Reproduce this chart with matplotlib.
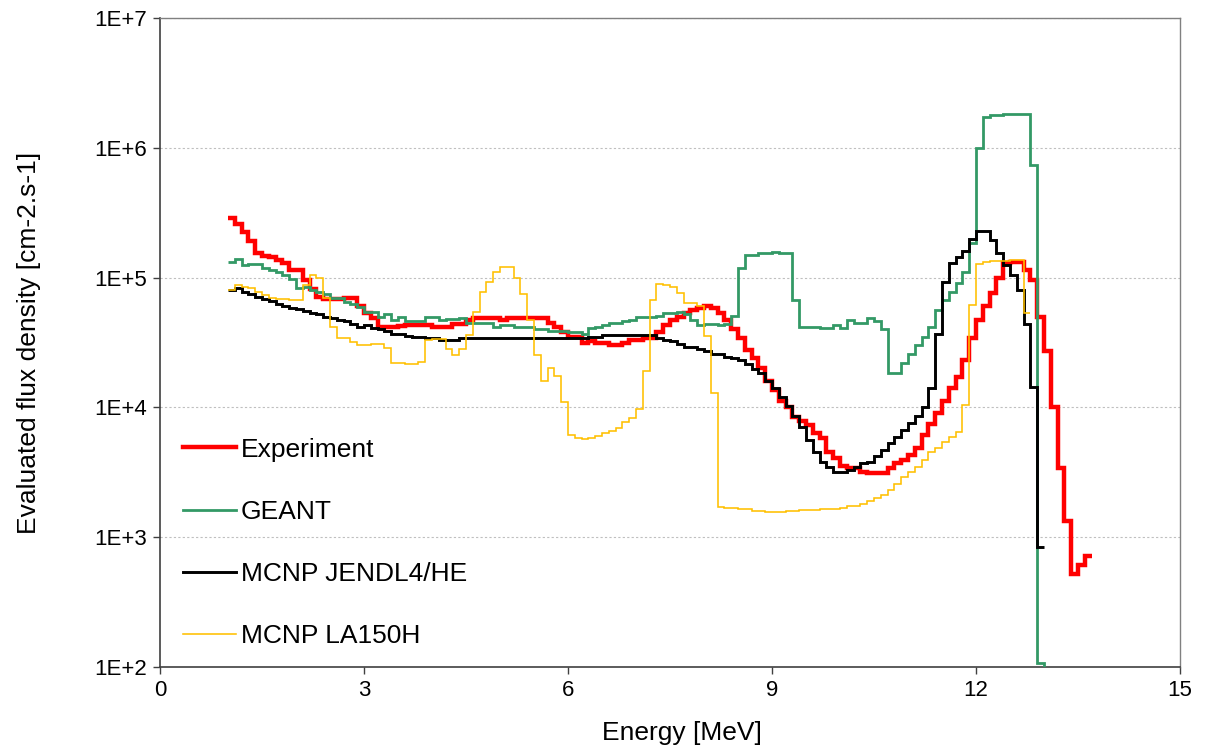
import numpy as np
import matplotlib
matplotlib.use("Agg")
import matplotlib.pyplot as plt
from matplotlib.ticker import FixedLocator, FuncFormatter, NullLocator
from matplotlib.lines import Line2D

plt.rcParams['font.family'] = ['Liberation Sans', 'DejaVu Sans']

# Spectra binned in 0.1 MeV steps starting at 1.0 MeV
E_START = 1.0
BIN_WIDTH = 0.1

series_labels = ["Experiment", "GEANT", "MCNP JENDL4/HE", "MCNP LA150H"]

experiment = [
    2.9e5, 2.6e5, 2.25e5, 1.9e5, 1.55e5, 1.47e5, 1.45e5, 1.37e5, 1.3e5, 1.15e5,
    1.15e5, 9.6e4, 8.1e4, 7.1e4, 6.8e4, 6.9e4, 6.9e4, 7.0e4, 7.0e4, 6.0e4,
    5.3e4, 4.9e4, 4.2e4, 4.2e4, 4.2e4, 4.25e4, 4.3e4, 4.3e4, 4.3e4, 4.35e4,
    4.2e4, 4.2e4, 4.2e4, 4.4e4, 4.4e4, 4.7e4, 4.9e4, 4.9e4, 4.9e4, 4.9e4,
    4.7e4, 4.9e4, 4.9e4, 4.9e4, 4.9e4, 4.9e4, 4.9e4, 4.5e4, 4.2e4, 3.8e4,
    3.5e4, 3.5e4, 3.15e4, 3.25e4, 3.15e4, 3.15e4, 3.05e4, 3.05e4, 3.15e4, 3.3e4,
    3.3e4, 3.4e4, 3.4e4, 3.8e4, 4.3e4, 4.7e4, 5.0e4, 5.3e4, 5.6e4, 5.8e4,
    6.0e4, 5.8e4, 5.3e4, 4.7e4, 4.0e4, 3.4e4, 2.75e4, 2.4e4, 2.0e4, 1.6e4,
    1.37e4, 1.13e4, 1.0e4, 8.5e3, 7.8e3, 7.3e3, 6.3e3, 5.8e3, 4.5e3, 4.05e3,
    3.55e3, 3.4e3, 3.4e3, 3.2e3, 3.1e3, 3.1e3, 3.15e3, 3.4e3, 3.7e3, 3.9e3,
    4.3e3, 4.9e3, 6.1e3, 7.4e3, 9.0e3, 1.13e4, 1.4e4, 1.7e4, 2.3e4, 3.4e4,
    4.7e4, 6.0e4, 7.6e4, 1.0e5, 1.3e5, 1.33e5, 1.33e5, 1.15e5, 9.6e4, 5.0e4,
    2.7e4, 1.0e4, 3.4e3, 1.33e3, 5.2e2, 6.1e2, 7.2e2,
]

geant = [
    1.32e5, 1.38e5, 1.24e5, 1.28e5, 1.28e5, 1.18e5, 1.15e5, 1.1e5, 1.05e5, 9.7e4,
    8.3e4, 8.4e4, 8.0e4, 7.7e4, 7.5e4, 7.0e4, 7.0e4, 6.5e4, 6.3e4, 5.9e4,
    5.4e4, 5.4e4, 5.0e4, 5.2e4, 4.7e4, 5.0e4, 4.6e4, 4.6e4, 4.6e4, 5.0e4,
    5.0e4, 4.7e4, 4.8e4, 4.8e4, 4.9e4, 4.5e4, 4.5e4, 4.5e4, 4.5e4, 4.2e4,
    4.3e4, 4.3e4, 4.2e4, 4.2e4, 4.2e4, 4.0e4, 4.0e4, 3.9e4, 3.9e4, 3.85e4,
    3.8e4, 3.8e4, 3.7e4, 4.1e4, 4.2e4, 4.3e4, 4.5e4, 4.5e4, 4.6e4, 4.7e4,
    5.0e4, 5.0e4, 5.0e4, 5.1e4, 5.3e4, 5.3e4, 5.4e4, 5.2e4, 4.7e4, 4.3e4,
    4.4e4, 4.4e4, 4.3e4, 4.4e4, 5.1e4, 1.19e5, 1.5e5, 1.5e5, 1.55e5, 1.55e5,
    1.57e5, 1.55e5, 1.55e5, 6.7e4, 4.2e4, 4.2e4, 4.2e4, 4.1e4, 4.1e4, 4.3e4,
    4.1e4, 4.7e4, 4.5e4, 4.5e4, 4.9e4, 4.6e4, 4.0e4, 1.85e4, 1.85e4, 2.2e4,
    2.6e4, 3.0e4, 3.5e4, 4.2e4, 5.6e4, 6.7e4, 7.8e4, 9.1e4, 1.1e5, 1.85e5,
    1.0e6, 1.73e6, 1.8e6, 1.8e6, 1.82e6, 1.83e6, 1.83e6, 1.83e6, 7.4e5, 1.07e2,
    2.0e1,
]

jendl = [
    8.0e4, 8.3e4, 7.7e4, 7.5e4, 7.1e4, 6.8e4, 6.6e4, 6.3e4, 6.0e4, 5.8e4,
    5.7e4, 5.5e4, 5.3e4, 5.2e4, 5.0e4, 4.9e4, 4.7e4, 4.65e4, 4.4e4, 4.2e4,
    4.3e4, 4.1e4, 4.0e4, 3.9e4, 3.7e4, 3.65e4, 3.55e4, 3.5e4, 3.5e4, 3.4e4,
    3.4e4, 3.3e4, 3.3e4, 3.3e4, 3.4e4, 3.4e4, 3.4e4, 3.4e4, 3.4e4, 3.4e4,
    3.4e4, 3.4e4, 3.4e4, 3.4e4, 3.4e4, 3.4e4, 3.4e4, 3.4e4, 3.4e4, 3.45e4,
    3.45e4, 3.45e4, 3.45e4, 3.5e4, 3.5e4, 3.6e4, 3.6e4, 3.6e4, 3.6e4, 3.6e4,
    3.6e4, 3.6e4, 3.6e4, 3.4e4, 3.3e4, 3.25e4, 3.1e4, 2.9e4, 2.9e4, 2.8e4,
    2.7e4, 2.6e4, 2.6e4, 2.45e4, 2.4e4, 2.3e4, 2.15e4, 1.97e4, 1.85e4, 1.6e4,
    1.4e4, 1.2e4, 1.03e4, 8.6e3, 7.1e3, 5.6e3, 4.5e3, 3.8e3, 3.5e3, 3.2e3,
    3.2e3, 3.3e3, 3.45e3, 3.7e3, 3.8e3, 4.2e3, 4.7e3, 5.3e3, 5.9e3, 6.7e3,
    7.6e3, 8.6e3, 1.0e4, 1.4e4, 3.7e4, 9.3e4, 1.3e5, 1.45e5, 1.6e5, 2.0e5,
    2.3e5, 2.3e5, 1.95e5, 1.55e5, 1.25e5, 1.05e5, 8.0e4, 4.4e4, 1.43e4, 8.4e2,
]

la150h = [
    8.0e4, 8.7e4, 8.5e4, 8.3e4, 7.7e4, 7.4e4, 7.0e4, 6.9e4, 6.8e4, 6.7e4,
    6.7e4, 8.8e4, 1.05e5, 1.0e5, 7.0e4, 4.2e4, 3.45e4, 3.4e4, 3.2e4, 3.0e4,
    3.0e4, 3.1e4, 3.1e4, 2.85e4, 2.2e4, 2.2e4, 2.15e4, 2.15e4, 2.25e4, 3.3e4,
    3.35e4, 3.35e4, 2.8e4, 2.55e4, 2.8e4, 3.6e4, 5.4e4, 7.8e4, 9.3e4, 1.1e5,
    1.2e5, 1.2e5, 1.0e5, 7.5e4, 4.7e4, 2.55e4, 1.6e4, 2.0e4, 1.75e4, 1.1e4,
    6.1e3, 5.8e3, 5.7e3, 5.8e3, 6.0e3, 6.3e3, 6.6e3, 7.0e3, 7.7e3, 8.3e3,
    9.7e3, 1.9e4, 6.7e4, 8.9e4, 8.7e4, 8.5e4, 7.6e4, 6.4e4, 6.4e4, 6.0e4,
    3.55e4, 1.3e4, 1.72e3, 1.68e3, 1.68e3, 1.65e3, 1.65e3, 1.6e3, 1.6e3, 1.57e3,
    1.57e3, 1.57e3, 1.6e3, 1.6e3, 1.62e3, 1.62e3, 1.62e3, 1.65e3, 1.65e3, 1.65e3,
    1.68e3, 1.73e3, 1.75e3, 1.8e3, 1.9e3, 2.0e3, 2.1e3, 2.3e3, 2.55e3, 2.9e3,
    3.2e3, 3.5e3, 3.9e3, 4.5e3, 4.9e3, 5.4e3, 5.9e3, 6.5e3, 1.05e4, 6.2e4,
    1.27e5, 1.33e5, 1.35e5, 1.35e5, 1.35e5, 1.37e5, 1.37e5, 5.3e4,
]

x_ticks = [0, 3, 6, 9, 12, 15]
y_ticks = [1e2, 1e3, 1e4, 1e5, 1e6, 1e7]

styles = [
    dict(color="#FF0000", lw=3.2, zorder=3),
    dict(color="#339966", lw=2.0, zorder=4),
    dict(color="#000000", lw=2.1, zorder=5),
    dict(color="#FFC000", lw=1.15, zorder=6),
]


def bin_edges(values):
    return E_START + BIN_WIDTH * np.arange(len(values) + 1)


fig = plt.figure(figsize=(12.05, 7.53), dpi=100)
ax = fig.add_axes([160 / 1205, 1 - 667 / 753, 1020 / 1205, 649 / 753])

handles = []
for vals, lab, st in zip([experiment, geant, jendl, la150h], series_labels, styles):
    ax.stairs(vals, bin_edges(vals), baseline=None, color=st["color"],
              linewidth=st["lw"], zorder=st["zorder"])
    handles.append(Line2D([], [], color=st["color"], lw=st["lw"], label=lab))

ax.set_yscale("log")
ax.set_xlim(0, 15)
ax.set_ylim(1e2, 1e7)
ax.xaxis.set_major_locator(FixedLocator(x_ticks))
ax.yaxis.set_major_locator(FixedLocator(y_ticks))
ax.yaxis.set_minor_locator(NullLocator())
ax.yaxis.set_major_formatter(FuncFormatter(lambda v, p: "1E+%d" % round(np.log10(v))))

ax.yaxis.grid(True, which="major", color="#BFBFBF", linestyle=(0, (2, 2)), linewidth=0.8)
ax.set_axisbelow(True)

for side in ["left", "bottom"]:
    ax.spines[side].set_color("#404040")
    ax.spines[side].set_linewidth(1.2)
for side in ["top", "right"]:
    ax.spines[side].set_color("#808080")
    ax.spines[side].set_linewidth(1.0)

ax.tick_params(axis="both", which="major", direction="out", length=5,
               width=1.0, color="#404040", labelsize=16, pad=4)

ax.set_xlabel("Energy [MeV]", fontsize=19)
ax.xaxis.set_label_coords(0.512, -0.083)
ax.set_ylabel("Evaluated flux density [cm-2.s-1]", fontsize=19)
ax.yaxis.set_label_coords(-0.117, 0.5)

ax.legend(handles=handles, loc="center left", bbox_to_anchor=(0.0225, 0.191),
          frameon=False, fontsize=19, handlelength=2.0, handletextpad=0.2,
          labelspacing=1.45, borderpad=0, borderaxespad=0)

fig.savefig("out.png", dpi=100)
